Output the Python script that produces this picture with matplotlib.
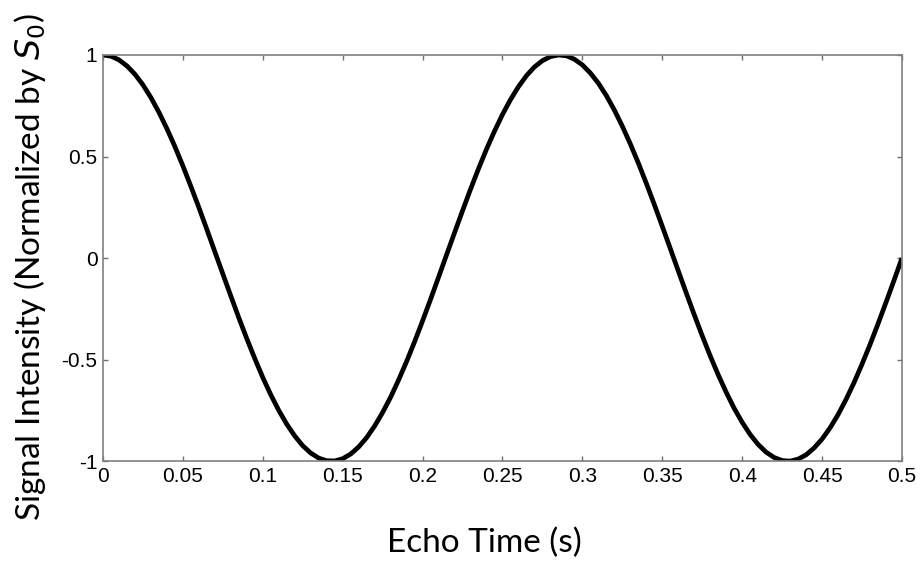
import numpy as np
import matplotlib.pyplot as plt

# --- Werte (alle 0.005 s) --- #
echo_time = [0.000, 0.005, 0.010, 0.015, 0.020, 0.025, 0.030, 0.035, 0.040, 0.045,
             0.050, 0.055, 0.060, 0.065, 0.070, 0.075, 0.080, 0.085, 0.090, 0.095,
             0.100, 0.105, 0.110, 0.115, 0.120, 0.125, 0.130, 0.135, 0.140, 0.145,
             0.150, 0.155, 0.160, 0.165, 0.170, 0.175, 0.180, 0.185, 0.190, 0.195,
             0.200, 0.205, 0.210, 0.215, 0.220, 0.225, 0.230, 0.235, 0.240, 0.245,
             0.250, 0.255, 0.260, 0.265, 0.270, 0.275, 0.280, 0.285, 0.290, 0.295,
             0.300, 0.305, 0.310, 0.315, 0.320, 0.325, 0.330, 0.335, 0.340, 0.345,
             0.350, 0.355, 0.360, 0.365, 0.370, 0.375, 0.380, 0.385, 0.390, 0.395,
             0.400, 0.405, 0.410, 0.415, 0.420, 0.425, 0.430, 0.435, 0.440, 0.445,
             0.450, 0.455, 0.460, 0.465, 0.470, 0.475, 0.480, 0.485, 0.490, 0.495,
             0.500]
signal = [1.000, 0.994, 0.976, 0.946, 0.905, 0.853, 0.790, 0.718, 0.637, 0.549,
          0.454, 0.353, 0.249, 0.141, 0.031, -0.078, -0.187, -0.294, -0.397, -0.495,
          -0.588, -0.673, -0.750, -0.818, -0.876, -0.924, -0.960, -0.985, -0.998, -0.999,
          -0.988, -0.965, -0.930, -0.884, -0.827, -0.760, -0.685, -0.600, -0.509, -0.412,
          -0.309, -0.203, -0.094, 0.016, 0.125, 0.233, 0.339, 0.440, 0.536, 0.625,
          0.707, 0.780, 0.844, 0.898, 0.941, 0.972, 0.992, 1.000, 0.996, 0.979,
          0.951, 0.911, 0.861, 0.800, 0.729, 0.649, 0.562, 0.468, 0.368, 0.264,
          0.156, 0.047, -0.063, -0.172, -0.279, -0.383, -0.482, -0.575, -0.661, -0.740,
          -0.809, -0.869, -0.918, -0.956, -0.982, -0.997, -1.000, -0.990, -0.969, -0.935,
          -0.891, -0.836, -0.771, -0.696, -0.613, -0.522, -0.426, -0.324, -0.218, -0.110,
          0.000]

xticks = [0, 0.05, 0.1, 0.15, 0.2, 0.25, 0.3, 0.35, 0.4, 0.45, 0.5]
xticklabels = ['0', '0.05', '0.1', '0.15', '0.2', '0.25', '0.3', '0.35', '0.4', '0.45', '0.5']
yticks = [-1, -0.5, 0, 0.5, 1]
yticklabels = ['-1', '-0.5', '0', '0.5', '1']

# --- Plot --- #
fig = plt.figure(figsize=(9.22, 5.61), dpi=100)
ax = fig.add_axes([0.1117, 0.178, 0.8666, 0.724])

ax.plot(echo_time, signal, color='black', linewidth=3.4, solid_capstyle='butt')

ax.set_xlim(0, 0.5)
ax.set_ylim(-1, 1)
ax.set_xticks(xticks)
ax.set_xticklabels(xticklabels, family='Liberation Sans', fontsize=15)
ax.set_yticks(yticks)
ax.set_yticklabels(yticklabels, family='Liberation Sans', fontsize=15)
ax.tick_params(direction='in', length=3.6, width=1, color='#707070',
               top=True, right=True, pad=4)

for sp in ax.spines.values():
    sp.set_color('#808080')
    sp.set_linewidth(1.2)

# Achsenbeschriftungen
ax.set_xlabel('Echo Time (s)', family='Lato', fontsize=24, va='center')
ax.set_ylabel(r'Signal Intensity (Normalized by $S_0$)', family='Lato', fontsize=24, va='center')
ax.xaxis.set_label_coords(0.477, -0.202)
ax.yaxis.set_label_coords(-0.0914, 0.478)

fig.savefig('out.png', dpi=100)
